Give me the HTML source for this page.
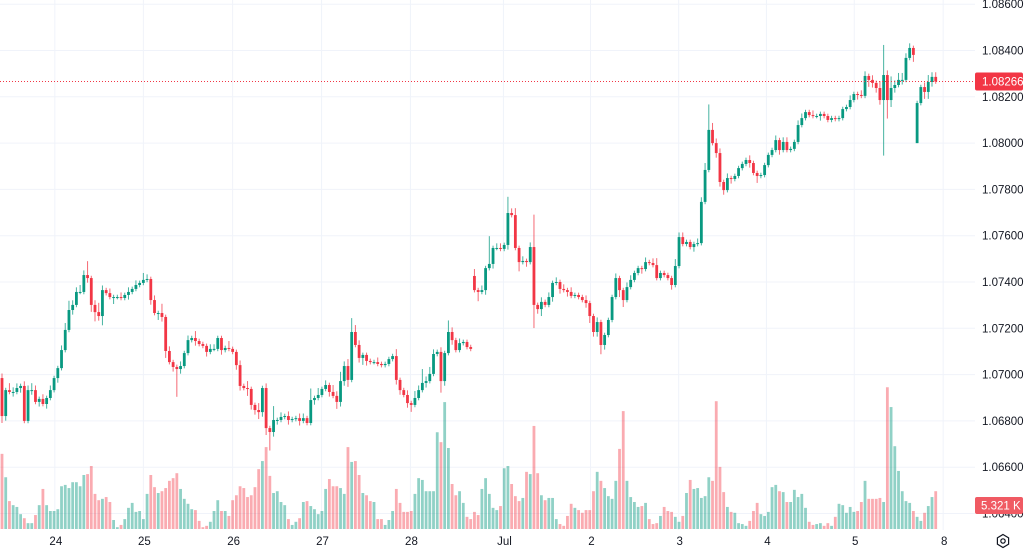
<!DOCTYPE html>
<html><head><meta charset="utf-8"><style>
html,body{margin:0;padding:0;background:#fff;}
svg{display:block;font-family:"Liberation Sans",sans-serif;}
</style></head><body>
<svg id="chart" width="1024" height="553" viewBox="0 0 1024 553" xmlns="http://www.w3.org/2000/svg">
<rect x="0" y="0" width="1024" height="553" fill="#ffffff"/>
<g id="grid"></g>
<g id="vol"></g>
<g id="candles"></g>
<g id="axis"></g>
<g id="taxis"></g>
<g transform="translate(1003,541)">
<polygon points="0,-6.5 5.6,-3.2 5.6,3.2 0,6.5 -5.6,3.2 -5.6,-3.2" fill="none" stroke="#131722" stroke-width="1.2"/>
<circle r="2.2" fill="none" stroke="#131722" stroke-width="1.2"/>
</g>
</svg>
<script>
const closes = [
1.06821,1.06933,1.06925,1.06925,1.06942,1.06951,1.06800,1.06933,1.06933,1.06882,1.06895,1.06873,1.06899,1.06933,
1.06985,1.07028,1.07106,1.07193,1.07279,1.07301,1.07357,1.07357,1.07430,1.07417,1.07301,1.07270,1.07253,1.07365,1.07352,1.07335,1.07335,1.07335,1.07331,1.07344,1.07357,1.07370,1.07387,1.07396,1.07409,1.07413,
1.07322,1.07266,1.07266,1.07249,1.07102,1.07054,1.07033,1.07024,1.07037,1.07093,1.07149,1.07158,1.07145,1.07132,1.07124,1.07098,1.07111,1.07111,1.07158,1.07106,1.07115,1.07111,1.07098,1.07041,1.06951,1.06942,1.06938,1.06869,1.06847,1.06838,
1.06942,1.06769,1.06752,1.06804,1.06804,1.06817,1.06821,1.06804,1.06808,1.06812,1.06800,1.06812,1.06791,1.06890,1.06899,1.06912,1.06938,1.06955,1.06925,1.06908,1.06882,1.06972,1.07037,1.06977,1.07184,
1.07128,1.07072,1.07085,1.07059,1.07054,1.07054,1.07046,1.07041,1.07046,1.07067,1.07080,1.06977,1.06933,1.06912,1.06877,1.06869,1.06899,1.06933,1.06964,1.06972,1.07003,1.07089,1.07098,1.06972,1.07093,1.07184,1.07149,1.07106,1.07136,1.07141,1.07119,1.07111,
1.07365,1.07357,1.07365,1.07460,1.07478,1.07547,1.07547,1.07543,1.07560,1.07698,1.07689,1.07547,1.07486,1.07491,1.07486,1.07551,1.07301,1.07283,1.07314,1.07301,1.07335,1.07396,1.07400,
1.07370,1.07365,1.07357,1.07340,1.07344,1.07335,1.07322,1.07309,1.07253,1.07184,1.07227,1.07128,1.07171,1.07236,1.07335,1.07417,1.07365,1.07322,1.07378,1.07409,1.07439,1.07460,1.07456,1.07486,1.07482,1.07473,1.07417,1.07439,1.07430,1.07417,1.07387,1.07469,1.07594,1.07564,1.07573,1.07551,1.07564,1.07568,1.07746,1.07884,1.08057,1.08000,1.07957,1.07832,1.07797,1.07849,1.07845,1.07858,1.07892,1.07910,
1.07927,1.07914,1.07871,1.07858,1.07862,1.07905,1.07949,1.07970,1.08013,1.07970,1.08005,1.07970,1.07975,1.08005,1.08078,1.08108,1.08134,1.08121,1.08117,1.08117,1.08126,1.08117,1.08100,1.08108,1.08104,1.08108,1.08147,1.08156,1.08186,1.08212,1.08208,1.08204,1.08290,1.08273,1.08260,1.08238,1.08186,1.08294,1.08186,1.08238,1.08251,1.08273,1.08273,1.08368,1.08411,1.08381,
1.08173,1.08242,1.08221,1.08264,1.08286,1.08266
];
const gapOpens = {0:1.06985, 127:1.07426, 246:1.08000};
const wickHiPips = [
2,1,3,2,2,1,2,2,3,2,1,2,1,2,
1,1,2,3,4,2,2,3,2,6,1,2,4,2,1,2,1,1,2,1,2,1,2,1,3,2,
1,2,1,4,1,2,1,1,2,1,2,1,3,1,1,1,2,2,1,1,1,3,1,1,2,1,3,1,1,3,
1,2,1,6,1,2,1,2,1,1,2,2,1,5,1,3,1,2,1,3,2,4,2,3,6,
3,2,1,1,1,1,2,1,1,1,1,3,1,1,2,1,3,2,6,2,3,2,1,2,1,5,2,1,2,1,1,1,
3,1,2,1,12,1,2,2,1,7,2,3,1,2,1,2,14,1,2,1,2,1,2,
1,2,1,2,1,1,1,2,1,1,2,1,1,1,1,2,1,1,2,2,1,1,1,2,1,2,3,1,1,1,1,3,2,2,1,1,1,2,2,3,11,3,2,2,1,2,1,1,1,1,
1,2,1,1,1,1,1,1,2,1,2,2,1,1,2,2,1,1,2,1,1,1,1,1,1,1,1,1,2,1,1,2,2,1,2,1,3,13,2,5,2,3,3,2,2,1,
1,1,2,3,2,2
];
const wickLoPips = [
3,2,1,2,1,2,1,1,2,1,2,1,2,1,
1,2,1,1,1,2,1,1,1,2,3,4,2,4,1,1,3,1,1,1,2,1,1,1,1,1,
2,1,3,2,3,1,2,12,2,1,1,1,2,1,1,2,1,1,1,2,1,1,1,2,2,1,3,2,2,3,
2,3,8,2,2,1,1,2,1,1,2,1,1,1,2,1,1,1,2,1,3,2,2,3,1,
1,2,3,2,1,1,1,1,1,1,1,2,2,1,2,3,1,1,1,2,1,1,1,5,2,1,2,1,1,1,1,1,
1,4,1,2,1,2,1,1,1,2,1,1,4,1,2,1,10,2,3,1,1,2,1,
2,1,2,1,1,1,1,2,3,2,2,4,2,1,1,1,3,3,1,1,1,1,2,1,1,1,1,1,1,1,2,1,1,1,1,1,2,1,1,1,1,1,2,2,2,1,2,1,1,1,
1,2,1,3,1,1,1,1,1,2,1,1,1,1,1,1,1,1,1,1,2,1,1,1,1,1,1,1,1,1,2,1,1,3,2,2,2,24,8,3,2,1,2,1,1,3,
0,1,3,3,2,1
];
const volumesK = [
16.7,11.5,6.2,5.3,4.9,3.3,2.4,1.3,1.3,3.1,5.3,8.9,5.3,4.0,4.0,4.4,9.5,9.8,9.1,10.4,10.4,9.5,12.0,12.2,14.0,7.8,6.4,6.7,7.1,6.0,2.0,0.4,0.9,2.2,4.7,5.8,3.8,4.0,2.2,7.8,12.0,9.3,8.0,8.4,9.1,10.7,11.3,12.4,8.9,6.7,5.6,4.4,4.2,1.8,0.4,0.7,1.6,4.0,6.4,4.0,4.0,2.9,6.4,7.5,9.5,9.1,7.1,7.5,9.3,13.3,15.1,18.2,11.8,8.0,8.4,6.0,5.3,2.2,0.9,1.6,2.4,6.0,6.2,5.1,4.4,
3.3,4.0,8.9,11.1,9.5,9.5,9.1,7.8,18.2,14.9,15.1,12.0,8.0,7.5,6.2,6.0,2.2,2.2,0.9,2.0,4.0,8.9,5.8,3.8,3.8,4.0,7.8,11.3,10.9,8.4,8.4,8.4,21.5,19.3,28.2,18.0,10.0,7.5,8.4,5.8,2.7,2.2,3.8,3.1,8.9,11.3,7.8,4.7,4.2,5.1,13.5,14.0,10.0,7.3,6.2,6.9,12.7,12.2,22.9,12.4,7.5,6.4,6.9,6.9,2.2,1.1,0.7,2.9,5.6,4.7,4.2,3.6,4.2,4.2,8.4,12.7,10.7,9.1,7.3,6.7,10.7,17.8,26.2,10.7,7.1,6.0,4.9,
5.1,5.8,2.2,1.1,1.3,2.9,4.9,4.0,3.8,2.7,1.6,2.9,8.0,10.9,8.9,9.1,6.9,7.3,11.5,10.7,28.4,13.8,8.2,4.9,3.8,3.6,1.3,1.1,0.7,1.8,4.0,5.8,3.3,2.9,3.8,9.3,9.8,8.4,8.2,6.0,6.0,8.7,7.1,7.8,4.7,1.6,0.9,1.1,1.3,0.7,1.3,0.7,2.7,5.6,5.3,3.6,4.9,3.8,4.0,6.0,10.7,6.7,6.7,6.7,6.9,6.0,31.5,27.1,18.4,12.9,8.4,6.2,5.8,4.0,2.7,1.8,3.6,5.1,7.1,8.4,5.321
];
const priceTicks = [1.064,1.066,1.068,1.070,1.072,1.074,1.076,1.078,1.080,1.082,1.084,1.086];
const dayLabels = ["24","25","26","27","28","Jul","2","3","4","5","8"];
const dayStartIndex = [14.2,38,62,85.9,109.8,134.8,158.2,181.9,205.5,229.1,253.0];
const lastPrice = 1.08266;
const lastVolumeLabel = "5.321 K";

const NS="http://www.w3.org/2000/svg";
function X(i){return 2+i*3.72;}
function Y(p){return 282-(p-1.074)/0.002*46.3;}
function VY(v){return 529-v*4.5;}
function mk(tag,attrs,parent){const e=document.createElementNS(NS,tag);for(const k in attrs)e.setAttribute(k,attrs[k]);parent.appendChild(e);return e;}

const grid=document.getElementById('grid');
priceTicks.forEach(p=>{
  const l=mk('line',{x1:0,x2:975,y1:Y(p),y2:Y(p),stroke:'#f0f3fa','stroke-width':1},grid);
  
  
});
dayStartIndex.forEach(d=>{
  const l=mk('line',{x1:X(d),x2:X(d),y1:0,y2:530,stroke:'#f0f3fa','stroke-width':1},grid);
  
  
});

const vol=document.getElementById('vol');
const cg=document.getElementById('candles');
closes.forEach((c,i)=>{
  const o=(gapOpens[i]!==undefined)?gapOpens[i]:closes[i-1];
  const up=c>=o;
  const hi=Math.max(o,c)+wickHiPips[i]*0.0001;
  const lo=Math.min(o,c)-wickLoPips[i]*0.0001;
  const col=up?'#089981':'#f23645';
  const x=X(i);
  if(volumesK[i]!==undefined){
    const vy=VY(volumesK[i]);
    const b=mk('rect',{x:x-1.4,y:vy,width:2.8,height:529-vy,fill:up?'rgba(8,153,129,0.45)':'rgba(242,54,69,0.42)'},vol);
    
    
  }
  const w=mk('line',{x1:x,x2:x,y1:Y(hi),y2:Y(lo),stroke:col,'stroke-width':1,'stroke-opacity':0.75},cg);
  
  
  const top=Y(Math.max(o,c)), bot=Y(Math.min(o,c));
  const r=mk('rect',{x:x-1.4,y:top,width:2.8,height:Math.max(1,bot-top),fill:col},cg);
  
  
});

const ax=document.getElementById('axis');
priceTicks.forEach(p=>{
  const t=mk('text',{x:982,y:Y(p)+4,'font-size':11.5,fill:'#131722'},ax);
  t.textContent=p.toFixed(5);
  
  
});
const pl=mk('line',{x1:0,x2:975,y1:Y(lastPrice),y2:Y(lastPrice),stroke:'#f23645','stroke-width':1,'stroke-dasharray':'1,2'},ax);


const pb=mk('rect',{x:975,y:Y(lastPrice)-9,width:48,height:18,rx:2,fill:'#f23645'},ax);


const pt=mk('text',{x:982,y:Y(lastPrice)+4,'font-size':11.5,fill:'#ffffff'},ax);
pt.textContent=lastPrice.toFixed(5);


const vb=mk('rect',{x:975,y:VY(5.321)-8,width:48,height:17,rx:2,fill:'#f05a63'},ax);


const vt=mk('text',{x:981,y:VY(5.321)+4.5,'font-size':11.5,fill:'#ffffff'},ax);
vt.textContent=lastVolumeLabel;



const ta=document.getElementById('taxis');
dayLabels.forEach((d,k)=>{
  const t=mk('text',{x:X(dayStartIndex[k])+1,y:545,'font-size':11.5,fill:'#131722','text-anchor':'middle'},ta);
  t.textContent=d;
  
  
});
</script>
</body></html>
